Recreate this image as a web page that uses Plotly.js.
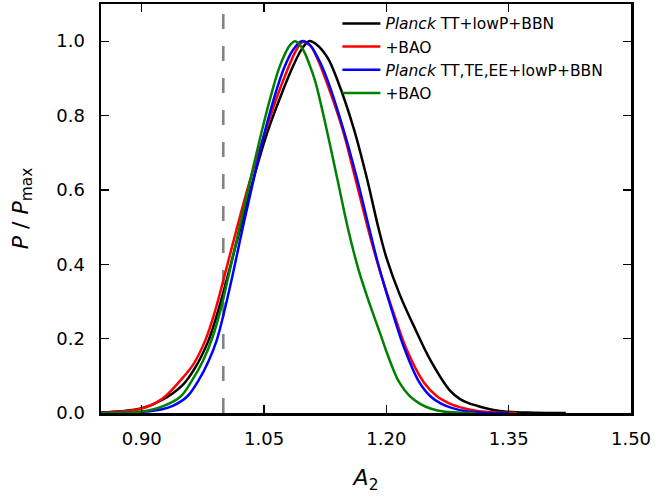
<!DOCTYPE html>
<html>
<head>
<meta charset="utf-8">
<script src="https://cdn.plot.ly/plotly-3.0.1.min.js"></script>
<style>html,body{margin:0;padding:0;background:#fff;}#chart{width:656px;height:497px;}</style>
</head>
<body>
<div id="chart"></div>
<script>
// Series names
const seriesNames = [
  "<i>Planck</i> TT+lowP+BBN",
  "+BAO",
  "<i>Planck</i> TT,TE,EE+lowP+BBN",
  "+BAO"
];
const seriesColors = ["#000000", "#ff0000", "#0000ff", "#008000"];

// Planck TT+lowP+BBN (black)
const blackX = [0.85,0.875,0.90,0.925,0.95,0.965,0.982,0.995,1.005,1.02,1.037,1.054,1.070,1.086,1.096,1.105,1.115,1.128,1.140,1.160,1.176,1.190,1.200,1.217,1.233,1.254,1.278,1.29,1.30,1.315,1.33,1.348,1.38,1.42];
const blackY = [0.002,0.005,0.013,0.035,0.075,0.12,0.196,0.285,0.365,0.49,0.63,0.755,0.85,0.935,0.978,1.0,0.99,0.955,0.895,0.765,0.632,0.5,0.418,0.315,0.237,0.142,0.06,0.038,0.027,0.017,0.009,0.0036,0.001,0.0];

// +BAO (red)
const redX = [0.85,0.875,0.90,0.925,0.948,0.963,0.978,0.99,1.0016,1.017,1.032,1.052,1.065,1.079,1.088,1.097,1.106,1.115,1.125,1.146,1.162,1.177,1.193,1.211,1.225,1.246,1.262,1.277,1.291,1.31,1.33,1.36];
const redY = [0.001,0.004,0.012,0.038,0.089,0.13,0.196,0.275,0.37,0.5,0.62,0.76,0.845,0.925,0.97,0.998,0.99,0.955,0.9,0.765,0.63,0.5,0.375,0.255,0.17,0.082,0.045,0.026,0.015,0.006,0.002,0.0];

// Planck TT,TE,EE+lowP+BBN (blue)
const blueX = [0.85,0.875,0.90,0.925,0.938,0.956,0.970,0.982,0.992,1.003,1.0127,1.025,1.037,1.049,1.062,1.074,1.085,1.096,1.106,1.116,1.127,1.147,1.164,1.178,1.190,1.209,1.221,1.239,1.254,1.267,1.281,1.30,1.32,1.35];
const blueY = [0.0,0.001,0.003,0.01,0.019,0.045,0.089,0.14,0.196,0.29,0.384,0.51,0.626,0.74,0.845,0.925,0.975,1.0,0.99,0.955,0.9,0.765,0.63,0.505,0.4,0.26,0.18,0.088,0.045,0.025,0.013,0.004,0.001,0.0];

// +BAO (green)
const greenX = [0.85,0.875,0.90,0.927,0.948,0.962,0.975,0.987,0.997,1.0065,1.02,1.034,1.048,1.058,1.068,1.077,1.082,1.088,1.094,1.100,1.106,1.113,1.127,1.140,1.153,1.166,1.180,1.193,1.199,1.207,1.215,1.229,1.242,1.254,1.27,1.29,1.31];
const greenY = [0.0,0.001,0.004,0.019,0.045,0.089,0.14,0.205,0.28,0.37,0.5,0.635,0.765,0.85,0.925,0.972,0.99,1.0,0.99,0.968,0.935,0.89,0.76,0.628,0.495,0.384,0.29,0.21,0.172,0.125,0.086,0.045,0.024,0.012,0.004,0.001,0.0];

// Reference line
const refX = [1.00, 1.00];
const refY = [0.0, 1.1];

// Ticks
const xTickVals = [0.90, 1.05, 1.20, 1.35, 1.50];
const xTickText = ["0.90", "1.05", "1.20", "1.35", "1.50"];
const yTickVals = [0.0, 0.2, 0.4, 0.6, 0.8, 1.0];
const yTickText = ["0.0", "0.2", "0.4", "0.6", "0.8", "1.0"];

const xs = [blackX, redX, blueX, greenX];
const ys = [blackY, redY, blueY, greenY];

const traces = [{
  x: refX, y: refY, mode: "lines", showlegend: false, hoverinfo: "skip",
  line: {color: "#808080", width: 2.5, dash: "15px,17px"}
}];
for (let i = 0; i < 4; i++) {
  traces.push({
    x: xs[i], y: ys[i], mode: "lines", name: seriesNames[i],
    line: {color: seriesColors[i], width: 2.5, shape: "spline", smoothing: 1.0}
  });
}

const font = "DejaVu Sans, sans-serif";
const layout = {
  width: 656, height: 497,
  margin: {l: 101, r: 25, t: 4, b: 84},
  paper_bgcolor: "#ffffff", plot_bgcolor: "#ffffff",
  font: {family: font, color: "#000000"},
  showlegend: true,
  legend: {
    x: 0.446, y: 0.993, xanchor: "left", yanchor: "top",
    bgcolor: "rgba(0,0,0,0)", borderwidth: 0,
    font: {family: font, size: 15.5, color: "#000"},
    itemwidth: 38,
    tracegroupgap: 0
  },
  xaxis: {
    range: [0.85, 1.50], tickvals: xTickVals, ticktext: xTickText,
    ticks: "inside", ticklen: 8, tickwidth: 1.3, tickcolor: "#000",
    showline: true, linecolor: "#000", linewidth: 2.5, mirror: "ticks",
    showgrid: false, zeroline: false,
    tickfont: {family: font, size: 18},
    ticklabelstandoff: 8,
    title: {text: "<i>A</i><sub>2</sub>", font: {family: font, size: 22}, standoff: 22}
  },
  yaxis: {
    range: [0, 1.1], tickvals: yTickVals, ticktext: yTickText,
    ticks: "inside", ticklen: 8, tickwidth: 1.3, tickcolor: "#000",
    showline: true, linecolor: "#000", linewidth: 2.5, mirror: "ticks",
    showgrid: false, zeroline: false,
    tickfont: {family: font, size: 18},
    ticklabelstandoff: 10,
    title: {text: "<i>P</i> / <i>P</i><sub>max</sub>", font: {family: font, size: 22}, standoff: 22}
  }
};

Plotly.newPlot("chart", traces, layout, {displayModeBar: false, staticPlot: true});
</script>
</body>
</html>
